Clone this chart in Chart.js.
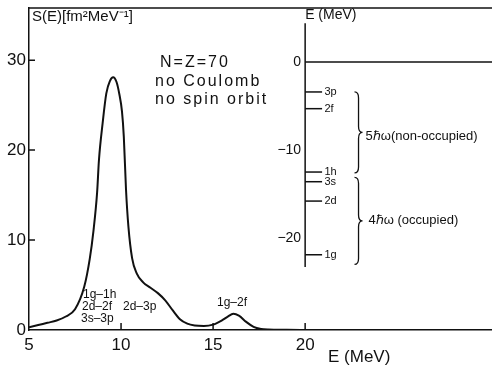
<!DOCTYPE html>
<html>
<head>
<meta charset="utf-8">
<script src="https://cdn.jsdelivr.net/npm/chart.js@4/dist/chart.umd.min.js"></script>
<style>
  html, body { margin: 0; padding: 0; background: #fff; }
  #wrap { width: 492px; height: 367px; }
</style>
</head>
<body>
<div id="wrap"><canvas id="myChart"></canvas></div>
<script>
// strength function S(E)
const energies = [5.0, 5.5, 6.0, 6.5, 7.0, 7.5, 8.0, 8.3, 8.5, 8.7, 8.8, 9.0, 9.2, 9.4, 9.57, 9.75, 9.9, 10.05, 10.15, 10.27,
  10.4, 10.6, 10.85, 11.2, 11.6, 12.0, 12.4, 12.8, 13.2, 13.6, 14.0, 14.5, 15.0, 15.5, 15.8, 16.1, 16.4, 16.8, 17.2, 17.6, 18.0, 19.0, 20.0];
const strength = [0.3, 0.55, 0.8, 1.05, 1.5, 2.3, 4.8, 7.9, 11.0, 15.3, 18.9, 23.0, 26.3, 27.7, 28.1, 27.6, 26.3, 24.3, 21.5, 15.6,
  11.5, 8.0, 6.3, 5.3, 4.7, 4.1, 3.3, 2.2, 1.2, 0.7, 0.5, 0.45, 0.6, 1.1, 1.5, 1.8, 1.6, 0.9, 0.35, 0.12, 0.05, 0.02, 0.0];

const xTicks = [5, 10, 15, 20];
const yTicks = [0, 10, 20, 30];

// single particle levels in the inset
const levelNames = ["3p", "2f", "1h", "3s", "2d", "1g"];
const levelEnergies = [-3.4, -5.3, -12.5, -13.6, -15.8, -21.9];
const insetTicks = [0, -10, -20];

const ink = "#111";
const curve = energies.map((e, i) => ({ x: e, y: strength[i] }));

const levelSets = levelEnergies.map((e) => ({
  data: [{ x: 20, y: e }, { x: 20.92, y: e }],
  yAxisID: "yE",
  borderColor: ink,
  borderWidth: 1.5,
  pointRadius: 0,
  showLine: true,
}));

function brace(ctx, x, y1, y2, w) {
  const ym = (y1 + y2) / 2;
  const r = 6;
  ctx.beginPath();
  ctx.moveTo(x - w, y1);
  ctx.quadraticCurveTo(x, y1, x, y1 + r);
  ctx.lineTo(x, ym - r);
  ctx.quadraticCurveTo(x, ym, x + w, ym);
  ctx.quadraticCurveTo(x, ym, x, ym + r);
  ctx.lineTo(x, y2 - r);
  ctx.quadraticCurveTo(x, y2, x - w, y2);
  ctx.stroke();
}

const extras = {
  id: "extras",
  afterDraw(chart) {
    const ctx = chart.ctx;
    const a = chart.chartArea;
    const xs = chart.scales.x, ys = chart.scales.y, ye = chart.scales.yE;
    ctx.save();
    ctx.strokeStyle = ink;
    ctx.fillStyle = ink;
    ctx.lineWidth = 1.5;
    // top frame line
    ctx.beginPath();
    ctx.moveTo(a.left, a.top);
    ctx.lineTo(a.right, a.top);
    ctx.stroke();
    // inward tick marks
    ctx.beginPath();
    yTicks.slice(1).forEach((v) => {
      const p = ys.getPixelForValue(v);
      ctx.moveTo(a.left, p);
      ctx.lineTo(a.left + 6, p);
    });
    xTicks.slice(1).forEach((v) => {
      const p = xs.getPixelForValue(v);
      ctx.moveTo(p, a.bottom);
      ctx.lineTo(p, a.bottom - 7);
    });
    ctx.stroke();

    // inset tick labels and levels
    const x20 = xs.getPixelForValue(20);
    ctx.font = "14px 'Liberation Sans'";
    ctx.textAlign = "right";
    ctx.textBaseline = "middle";
    insetTicks.forEach((v) => {
      ctx.fillText(String(v).replace("-", "\u2212"), x20 - 4, ye.getPixelForValue(v));
    });
    ctx.textAlign = "left";
    ctx.fillText("E (MeV)", x20, 15);
    ctx.font = "11px 'Liberation Sans'";
    levelNames.forEach((n, i) => {
      ctx.fillText(n, xs.getPixelForValue(21.05), ye.getPixelForValue(levelEnergies[i]));
    });

    // braces
    ctx.lineWidth = 1.3;
    const bx = xs.getPixelForValue(22.9);
    brace(ctx, bx, ye.getPixelForValue(-3.4), ye.getPixelForValue(-12.6), 4);
    brace(ctx, bx, ye.getPixelForValue(-13.1), ye.getPixelForValue(-23.0), 4);
    ctx.font = "13px 'Liberation Sans'";
    ctx.fillText("5\u210F\u03C9(non-occupied)", bx + 7, ye.getPixelForValue(-8.4));
    ctx.fillText("4\u210F\u03C9 (occupied)", bx + 10, ye.getPixelForValue(-18.0));

    // annotations on the main plot
    ctx.font = "15px 'Liberation Sans'";
    ctx.fillText("S(E)[fm\u00B2MeV\u207B\u00B9]", a.left + 3, 17);
    ctx.font = "16px 'Liberation Sans'";
    ctx.letterSpacing = "2px";
    ctx.fillText("N=Z=70", 160, 63);
    ctx.fillText("no Coulomb", 155, 82);
    ctx.fillText("no spin orbit", 155, 100);
    ctx.letterSpacing = "0px";
    ctx.font = "12px 'Liberation Sans'";
    ctx.fillText("1g\u20131h", 83, 295);
    ctx.fillText("2d\u20132f", 82, 307);
    ctx.fillText("3s\u20133p", 81, 319);
    ctx.fillText("2d\u20133p", 123, 307);
    ctx.fillText("1g\u20132f", 217, 303);
    ctx.font = "17px 'Liberation Sans'";
    ctx.fillText("E (MeV)", 328, 357);
    ctx.restore();
  },
};

new Chart("myChart", {
  type: "scatter",
  data: {
    datasets: [
      {
        data: curve,
        borderColor: ink,
        borderWidth: 2,
        pointRadius: 0,
        showLine: true,
        cubicInterpolationMode: "monotone",
      },
      {
        data: [{ x: 20, y: 4.4 }, { x: 20, y: -23.3 }],
        yAxisID: "yE",
        borderColor: ink,
        borderWidth: 1.5,
        pointRadius: 0,
        showLine: true,
      },
      {
        data: [{ x: 20, y: 0 }, { x: 30.15, y: 0 }],
        yAxisID: "yE",
        borderColor: ink,
        borderWidth: 1.5,
        pointRadius: 0,
        showLine: true,
      },
      ...levelSets,
    ],
  },
  options: {
    responsive: true,
    maintainAspectRatio: false,
    animation: false,
    layout: { padding: { top: 8, right: 0, left: 0, bottom: 0 } },
    plugins: { legend: { display: false }, tooltip: { enabled: false } },
    scales: {
      x: {
        type: "linear",
        min: 5,
        max: 30.15,
        afterBuildTicks: (s) => { s.ticks = xTicks.map((v) => ({ value: v })); },
        afterFit: (s) => { s.height = 37; s.paddingLeft = 0; s.paddingRight = 0; },
        grid: { display: false, drawTicks: false },
        border: { color: ink, width: 1.5 },
        ticks: { color: ink, font: { family: "Liberation Sans", size: 17 }, padding: 5, maxRotation: 0 },
      },
      y: {
        min: 0,
        max: 35.8,
        afterBuildTicks: (s) => { s.ticks = yTicks.map((v) => ({ value: v })); },
        afterFit: (s) => { s.width = 29; s.paddingTop = 0; s.paddingBottom = 0; },
        grid: { display: false, drawTicks: false },
        border: { color: ink, width: 1.5 },
        ticks: { color: ink, font: { family: "Liberation Sans", size: 17 }, padding: 3 },
      },
      yE: {
        type: "linear",
        min: -30.45,
        max: 6.14,
        display: false,
      },
    },
  },
  plugins: [extras],
});
</script>
</body>
</html>
